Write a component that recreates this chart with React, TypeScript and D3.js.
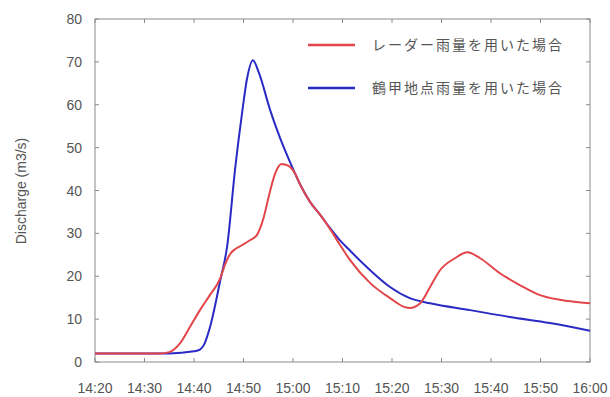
import React, { useEffect, useRef } from 'react';
import * as d3 from 'd3';

// minutes after 14:20
const radarMinutes = [0, 10, 13, 15, 17.2, 19.2, 21.2, 23.2, 25.3, 26.3, 27.3, 28.3, 29.3, 31.3, 32.7, 33.9, 35.4, 36.4, 37.7, 39.0, 40.4, 41.4, 43.4, 45.5, 47.5, 49.5, 51.5, 55.6, 59.6, 62.6, 63.6, 65.7, 67.7, 69.7, 72.7, 75.2, 77.8, 81.8, 85.9, 89.9, 93.9, 100];
const radarValues = [2, 2, 2, 2.3, 4.4, 8.2, 12.1, 15.6, 19.5, 22.8, 25.2, 26.3, 27, 28.4, 29.6, 33, 40, 44, 46.2, 45.8, 44, 41.5, 37.4, 34.3, 31, 27.3, 23.8, 18.4, 14.9, 12.8, 12.6, 13.7, 17.5, 21.4, 24.2, 25.6, 24.2, 20.7, 17.9, 15.6, 14.5, 13.7];

const gaugeMinutes = [0, 15, 20, 21.2, 22, 23.2, 25.3, 26.7, 28.3, 29.7, 30.7, 31.9, 33.1, 35.4, 37.4, 39.4, 41.4, 43.4, 45.5, 47.5, 49.1, 51.5, 55.6, 59.6, 63.6, 67.7, 75.8, 83.8, 91.9, 100];
const gaugeValues = [2, 2, 2.5, 2.9, 4, 8, 19, 27, 45, 58, 66, 70.4, 67.5, 58.7, 52.2, 46.6, 41.5, 37.4, 34.3, 31.2, 28.9, 26, 21.4, 17.5, 14.9, 13.7, 12.1, 10.5, 9.1, 7.3];

const timeTicks = ['14:20', '14:30', '14:40', '14:50', '15:00', '15:10', '15:20', '15:30', '15:40', '15:50', '16:00'];
const valueTicks = [0, 10, 20, 30, 40, 50, 60, 70, 80];

const seriesNames = ['レーダー雨量を用いた場合', '鶴甲地点雨量を用いた場合'];
const seriesColors = ['#e2454a', '#2a2ac4'];

export default function App() {
    const ref = useRef<SVGSVGElement>(null);

    useEffect(() => {
        const left = 95, right = 590, top = 19, bottom = 362;

        const svg = d3.select(ref.current);
        svg.selectAll('*').remove();

        const x = d3.scaleLinear().domain([0, 100]).range([left, right]);
        const y = d3.scaleLinear().domain([0, 80]).range([bottom, top]);

        const tickColor = '#8a8a8a';
        const labelFont = 'Liberation Sans, Arial, sans-serif';

        // frame
        svg.append('rect')
            .attr('x', left).attr('y', top)
            .attr('width', right - left).attr('height', bottom - top)
            .attr('fill', 'none')
            .attr('stroke', tickColor)
            .attr('stroke-width', 1);

        const tl = 4;
        timeTicks.forEach((t, i) => {
            const xi = x(i * 10);
            svg.append('line').attr('x1', xi).attr('x2', xi).attr('y1', bottom).attr('y2', bottom - tl).attr('stroke', tickColor);
            svg.append('line').attr('x1', xi).attr('x2', xi).attr('y1', top).attr('y2', top + tl).attr('stroke', tickColor);
            svg.append('text')
                .attr('x', xi).attr('y', 393)
                .attr('text-anchor', 'middle')
                .attr('font-family', labelFont)
                .attr('font-size', 14)
                .attr('fill', '#555')
                .text(t);
        });

        valueTicks.forEach(v => {
            const yi = y(v);
            svg.append('line').attr('x1', left).attr('x2', left + tl).attr('y1', yi).attr('y2', yi).attr('stroke', tickColor);
            svg.append('line').attr('x1', right).attr('x2', right - tl).attr('y1', yi).attr('y2', yi).attr('stroke', tickColor);
            svg.append('text')
                .attr('x', 82).attr('y', yi)
                .attr('dy', '0.36em')
                .attr('text-anchor', 'end')
                .attr('font-family', labelFont)
                .attr('font-size', 14)
                .attr('fill', '#555')
                .text(v);
        });

        svg.append('text')
            .attr('transform', 'translate(26,191) rotate(-90)')
            .attr('text-anchor', 'middle')
            .attr('font-family', labelFont)
            .attr('font-size', 14)
            .attr('fill', '#555')
            .text('Discharge (m3/s)');

        const line = d3.line<[number, number]>()
            .x(d => x(d[0]))
            .y(d => y(d[1]))
            .curve(d3.curveMonotoneX);

        const series: [number, number][][] = [
            radarMinutes.map((m, i) => [m, radarValues[i]]),
            gaugeMinutes.map((m, i) => [m, gaugeValues[i]]),
        ];

        // blue first so red sits on top where they overlap
        [1, 0].forEach(k => {
            svg.append('path')
                .attr('d', line(series[k]))
                .attr('fill', 'none')
                .attr('stroke', seriesColors[k])
                .attr('stroke-width', 2);
        });

        seriesNames.forEach((name, i) => {
            const ly = 45 + i * 43;
            svg.append('line')
                .attr('x1', 308).attr('x2', 355)
                .attr('y1', ly).attr('y2', ly)
                .attr('stroke', seriesColors[i])
                .attr('stroke-width', 2.5);
            svg.append('text')
                .attr('x', 372).attr('y', ly + 5)
                .attr('font-family', 'Noto Sans CJK JP')
                .attr('font-size', 14)
                .attr('letter-spacing', 2)
                .attr('fill', '#555')
                .text(name);
        });
    }, []);

    return (
        <svg ref={ref} width={610} height={397}
            style={{ position: 'absolute', left: 0, top: 0, background: '#fff' }} />
    );
}
